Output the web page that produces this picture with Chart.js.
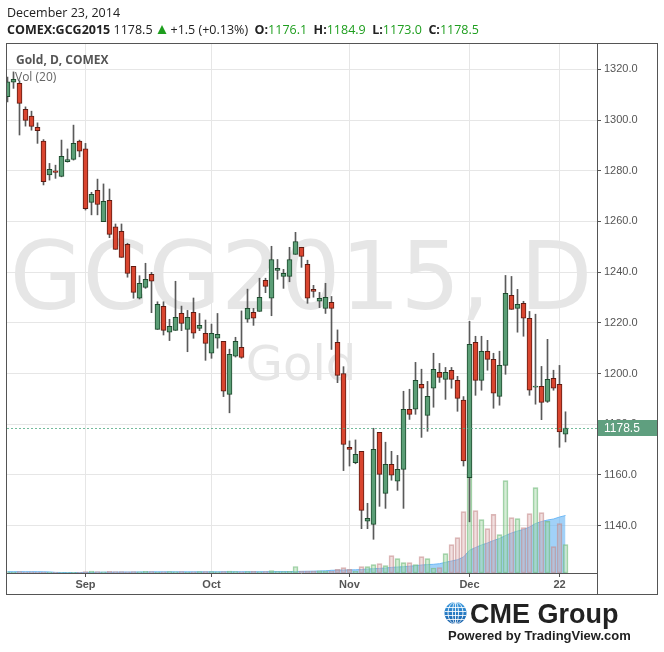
<!DOCTYPE html>
<html>
<head>
<meta charset="utf-8">
<script src="https://cdn.jsdelivr.net/npm/chart.js@4.4.1/dist/chart.umd.min.js"></script>
<style>
  html, body { margin: 0; padding: 0; background: #fff; overflow: hidden; }
  canvas { display: block; }
</style>
</head>
<body>
<canvas id="goldChart" width="664" height="652"></canvas>
<script>
// trading days shown on the chart
const dates = [
    '2014-08-13', '2014-08-14', '2014-08-15', '2014-08-18', '2014-08-19', '2014-08-20', '2014-08-21',
    '2014-08-22', '2014-08-25', '2014-08-26', '2014-08-27', '2014-08-28', '2014-08-29',
    '2014-09-02', '2014-09-03', '2014-09-04', '2014-09-05', '2014-09-08', '2014-09-09', '2014-09-10',
    '2014-09-11', '2014-09-12', '2014-09-15', '2014-09-16', '2014-09-17', '2014-09-18', '2014-09-19',
    '2014-09-22', '2014-09-23', '2014-09-24', '2014-09-25', '2014-09-26', '2014-09-29', '2014-09-30',
    '2014-10-01', '2014-10-02', '2014-10-03', '2014-10-06', '2014-10-07', '2014-10-08', '2014-10-09',
    '2014-10-10', '2014-10-13', '2014-10-14', '2014-10-15', '2014-10-16', '2014-10-17', '2014-10-20',
    '2014-10-21', '2014-10-22', '2014-10-23', '2014-10-24', '2014-10-27', '2014-10-28', '2014-10-29',
    '2014-10-30', '2014-10-31',
    '2014-11-03', '2014-11-04', '2014-11-05', '2014-11-06', '2014-11-07', '2014-11-10', '2014-11-11',
    '2014-11-12', '2014-11-13', '2014-11-14', '2014-11-17', '2014-11-18', '2014-11-19', '2014-11-20',
    '2014-11-21', '2014-11-24', '2014-11-25', '2014-11-26', '2014-11-27', '2014-11-28',
    '2014-12-01', '2014-12-02', '2014-12-03', '2014-12-04', '2014-12-05', '2014-12-08', '2014-12-09',
    '2014-12-10', '2014-12-11', '2014-12-12', '2014-12-15', '2014-12-16', '2014-12-17', '2014-12-18',
    '2014-12-19', '2014-12-22', '2014-12-23'
];

const opens = [
    1309.2, 1314.9, 1314.5, 1304.2, 1301.6, 1297.1, 1291.7, 1278.4, 1280.0, 1277.8, 1283.6, 1284.5, 1291.7,
    1288.6, 1267.5, 1272.3, 1259.9, 1268.3, 1257.9, 1256.1, 1251.0, 1242.3, 1229.7, 1234.0, 1239.1, 1217.4,
    1226.5, 1216.3, 1217.0, 1223.7, 1217.4, 1224.1, 1217.8, 1215.9,
    1208.0, 1213.9, 1212.7, 1191.8, 1206.8, 1210.3, 1221.4, 1224.1, 1224.5, 1236.8, 1229.7, 1240.7, 1238.3,
    1238.3, 1247.0, 1249.8, 1243.1, 1233.2, 1228.5, 1225.7, 1228.1, 1212.3, 1200.0,
    1170.9, 1164.8, 1169.3, 1141.7, 1140.5, 1176.8, 1152.7, 1164.2, 1157.5, 1162.2, 1185.9, 1185.9, 1195.7,
    1183.5, 1194.2, 1200.5, 1197.7, 1201.3, 1197.3, 1189.5,
    1158.9, 1212.3, 1197.3, 1208.8, 1205.6, 1191.0, 1203.2, 1230.8, 1225.7, 1227.7, 1221.8, 1194.6, 1194.9,
    1189.0, 1198.1, 1195.7, 1176.1
];
const highs = [
    1317.0, 1319.0, 1315.5, 1305.2, 1303.5, 1298.9, 1292.3, 1282.9, 1282.2, 1292.1, 1288.6, 1298.0, 1292.1,
    1290.8, 1271.5, 1276.7, 1274.8, 1272.8, 1259.0, 1259.0, 1251.4, 1242.3, 1238.6, 1243.5, 1239.9, 1228.3,
    1228.3, 1221.4, 1236.4, 1226.6, 1224.9, 1229.8, 1223.7, 1221.1,
    1219.5, 1223.7, 1212.7, 1209.6, 1214.3, 1224.7, 1233.3, 1225.7, 1237.6, 1237.6, 1250.2, 1245.0, 1241.1,
    1249.8, 1255.7, 1249.8, 1244.7, 1234.8, 1232.0, 1235.6, 1230.4, 1217.2, 1202.7,
    1173.4, 1173.8, 1169.3, 1148.8, 1178.4, 1176.8, 1172.9, 1169.3, 1167.7, 1193.0, 1193.8, 1204.4, 1201.7,
    1196.9, 1208.0, 1204.0, 1202.4, 1202.4, 1198.9, 1190.9,
    1220.6, 1214.7, 1214.7, 1213.1, 1208.0, 1208.8, 1238.7, 1238.3, 1233.2, 1228.5, 1224.5, 1223.4, 1202.8,
    1213.5, 1201.3, 1203.2, 1184.9
];
const lows = [
    1307.2, 1312.5, 1294.1, 1297.6, 1296.0, 1290.8, 1274.4, 1276.3, 1277.0, 1277.6, 1283.4, 1284.2, 1285.5,
    1264.5, 1262.6, 1262.6, 1259.9, 1253.6, 1249.0, 1245.8, 1238.0, 1229.7, 1229.4, 1233.6, 1224.0, 1217.4,
    1215.2, 1213.0, 1217.0, 1216.9, 1208.6, 1213.9, 1216.9, 1205.2,
    1206.0, 1210.0, 1190.9, 1184.5, 1206.5, 1206.0, 1220.2, 1219.0, 1224.5, 1231.9, 1222.8, 1237.2, 1233.6,
    1236.2, 1247.0, 1241.9, 1227.7, 1230.1, 1226.0, 1223.7, 1209.5, 1196.4, 1161.7,
    1163.5, 1164.4, 1138.8, 1138.8, 1134.6, 1147.6, 1146.8, 1157.9, 1153.9, 1146.8, 1181.9, 1183.9, 1174.8,
    1177.2, 1186.7, 1196.5, 1189.8, 1194.2, 1185.1, 1163.5,
    1141.5, 1191.4, 1193.4, 1201.3, 1186.3, 1187.5, 1199.7, 1225.3, 1216.3, 1214.7, 1191.4, 1187.9, 1181.8,
    1188.6, 1193.4, 1170.9, 1173.0
];
const closes = [
    1315.1, 1316.1, 1306.6, 1299.9, 1297.5, 1295.8, 1275.7, 1280.6, 1279.3, 1285.7, 1284.4, 1290.8, 1287.7,
    1265.0, 1270.7, 1266.7, 1267.9, 1254.9, 1249.0, 1245.8, 1239.5, 1232.0, 1235.6, 1237.2, 1236.4, 1227.3,
    1217.0, 1218.6, 1222.2, 1219.8, 1222.2, 1215.9, 1219.0, 1211.9,
    1215.9, 1215.5, 1193.0, 1207.6, 1212.7, 1206.4, 1225.7, 1221.8, 1230.1, 1234.4, 1245.0, 1241.5, 1239.5,
    1245.0, 1252.1, 1246.2, 1229.7, 1232.4, 1229.7, 1230.1, 1225.7, 1199.3, 1172.0,
    1170.1, 1168.1, 1146.0, 1142.9, 1170.1, 1160.2, 1164.2, 1159.9, 1162.2, 1185.9, 1183.9, 1197.3, 1194.2,
    1191.0, 1201.7, 1198.5, 1200.5, 1197.7, 1190.2, 1165.5,
    1211.5, 1197.3, 1208.8, 1205.6, 1192.2, 1203.2, 1231.6, 1225.3, 1227.3, 1221.8, 1193.4, 1195.0, 1188.6,
    1197.7, 1194.2, 1177.0, 1178.5
];

// volume (thousand contracts) and its 20 day average
const volumes = [
    1.2, 1.0, 1.3, 0.9, 1.1, 0.8, 1.0, 0.7, 0.6, 0.5, 0.5, 0.6, 0.7,
    1.5, 1.8, 1.4, 1.2, 1.6, 1.3, 1.5, 1.1, 1.4, 1.2, 1.6, 1.3, 1.0, 1.2, 1.4, 1.1, 1.3, 1.0, 1.2, 1.5, 1.3,
    1.4, 1.2, 1.5, 1.8, 1.3, 1.1, 1.4, 1.6, 1.2, 1.3, 2.5, 1.4, 1.5, 1.6, 6.5, 1.8, 2.0, 1.9, 2.2, 2.0, 1.7,
    3.7, 5.3,
    3.7, 1.7, 6.3, 6.3, 8.3, 9.3, 7.3, 17.3, 14.3, 10.3, 10.3, 8.3, 16.3, 14.3, 5.0, 5.3, 19.3, 28.3, 35.3,
    61.3,
    99.0, 62.3, 53.3, 44.3, 58.7, 38.3, 92.3, 55.3, 54.3, 45.3, 59.3, 85.3, 60.3, 51.7, 26.3, 49.3, 28.3
];
const volumeMA = [
    1.3, 1.3, 1.3, 1.3, 1.3, 1.3, 1.2, 1.1, 0.6, 0.5, 0.5, 0.5, 0.5,
    0.6, 0.7, 0.8, 0.8, 0.9, 0.9, 1.0, 1.0, 1.0, 1.1, 1.1, 1.2, 1.2, 1.2, 1.2, 1.2, 1.2, 1.2, 1.2, 1.2, 1.2,
    1.2, 1.2, 1.3, 1.3, 1.3, 1.3, 1.3, 1.3, 1.3, 1.3, 1.4, 1.4, 1.4, 1.4, 1.5, 1.6, 1.7, 1.8, 2.0, 2.2, 2.7,
    2.8, 3.0,
    3.1, 3.2, 3.5, 4.0, 4.3, 4.6, 5.0, 5.6, 6.0, 6.3, 6.8, 7.3, 8.0, 8.4, 8.7, 9.3, 10.7, 12.0, 13.3, 16.0,
    22.7, 25.5, 28.0, 30.0, 32.5, 34.5, 37.5, 40.0, 42.0, 43.5, 46.0, 49.5, 51.5, 53.0, 54.0, 56.0, 57.5
];

const tickDates = ['2014-09-02', '2014-10-01', '2014-11-03', '2014-12-01', '2014-12-22'];
const tickLabels = ['Sep', 'Oct', 'Nov', 'Dec', '22'];
const priceTicks = [1140, 1160, 1180, 1200, 1220, 1240, 1260, 1280, 1300, 1320];

const lastPrice = 1178.5;
const GREEN = '#1e9e1e';

Chart.defaults.font.family = '"Liberation Sans", Arial, sans-serif';

const isUp = closes.map((c, i) => c >= opens[i]);
const tickIndex = tickDates.map(d => dates.indexOf(d));

// draw a row of text pieces one after another
function textRow(ctx, x, y, parts) {
    parts.forEach(p => {
        if (p.gap) { x += p.gap; return; }
        if (p.triangle) {
            ctx.fillStyle = p.color;
            ctx.beginPath();
            ctx.moveTo(x, y);
            ctx.lineTo(x + 9, y);
            ctx.lineTo(x + 4.5, y - 9);
            ctx.closePath();
            ctx.fill();
            x += 9;
            return;
        }
        ctx.font = p.font;
        ctx.fillStyle = p.color;
        ctx.fillText(p.text, x, y);
        x += ctx.measureText(p.text).width;
    });
}

const decorations = {
    id: 'decorations',
    beforeDraw(chart) {
        const { ctx, chartArea: a } = chart;
        ctx.save();
        ctx.beginPath();
        ctx.rect(a.left, a.top, a.right - a.left, a.bottom - a.top);
        ctx.clip();
        ctx.fillStyle = '#e6e6e6';
        ctx.textAlign = 'center';
        ctx.font = '94px "DejaVu Sans"';
        ctx.fillText('GCG2015, D', 301, 309);
        ctx.font = '48px "DejaVu Sans"';
        ctx.fillText('Gold', 301, 380);
        ctx.restore();
    },
    afterDatasetsDraw(chart) {
        const { ctx, chartArea: a } = chart;
        const py = Math.round(chart.scales.y.getPixelForValue(lastPrice)) + 0.5;
        ctx.save();
        ctx.strokeStyle = 'rgba(80,170,130,0.8)';
        ctx.setLineDash([2, 2]);
        ctx.beginPath();
        ctx.moveTo(a.left, py);
        ctx.lineTo(a.right, py);
        ctx.stroke();
        ctx.restore();
    },
    afterDraw(chart) {
        const { ctx, chartArea: a } = chart;
        ctx.save();

        // frame
        ctx.strokeStyle = '#555';
        ctx.lineWidth = 1;
        ctx.strokeRect(6.5, 43.5, 651, 551);
        ctx.beginPath();
        ctx.moveTo(a.right + 0.5, 43);
        ctx.lineTo(a.right + 0.5, 595);
        ctx.moveTo(6, a.bottom + 0.5);
        ctx.lineTo(a.right, a.bottom + 0.5);
        ctx.stroke();

        // last price label
        const py = chart.scales.y.getPixelForValue(lastPrice);
        ctx.fillStyle = '#5f9f7f';
        ctx.fillRect(a.right + 1, Math.round(py) - 8, 59, 16);
        ctx.fillStyle = '#fff';
        ctx.font = '12px "Liberation Sans"';
        ctx.textBaseline = 'middle';
        ctx.fillText(lastPrice.toFixed(1), a.right + 7, py + 1);

        // header
        ctx.textBaseline = 'alphabetic';
        const reg = '12.5px "Open Sans"';
        const bold = 'bold 12.5px "Open Sans"';
        ctx.font = reg;
        ctx.fillStyle = '#222';
        ctx.fillText('December 23, 2014', 7, 17);
        textRow(ctx, 7, 34, [
            { text: 'COMEX:GCG2015 ', font: bold, color: '#222' },
            { text: '1178.5', font: reg, color: '#222' },
            { gap: 5 },
            { triangle: true, color: GREEN },
            { gap: 4 },
            { text: '+1.5 (+0.13%)  ', font: reg, color: '#222' },
            { text: 'O:', font: bold, color: '#222' },
            { text: '1176.1  ', font: reg, color: GREEN },
            { text: 'H:', font: bold, color: '#222' },
            { text: '1184.9  ', font: reg, color: GREEN },
            { text: 'L:', font: bold, color: '#222' },
            { text: '1173.0  ', font: reg, color: GREEN },
            { text: 'C:', font: bold, color: '#222' },
            { text: '1178.5', font: reg, color: GREEN }
        ]);

        // legend text inside the pane
        ctx.font = 'bold 12px "Open Sans"';
        ctx.fillStyle = '#555';
        ctx.fillText('Gold, D, COMEX', 16, 64);
        ctx.font = '12px "Open Sans"';
        ctx.fillStyle = '#666';
        ctx.fillText('Vol (20)', 15, 81);

        // CME Group logo
        const gx = 455.5, gy = 613, r = 11;
        const grad = ctx.createLinearGradient(gx, gy - r, gx, gy + r);
        grad.addColorStop(0, '#3c9be0');
        grad.addColorStop(1, '#155ea8');
        ctx.fillStyle = grad;
        ctx.beginPath();
        ctx.arc(gx, gy, r, 0, Math.PI * 2);
        ctx.fill();
        ctx.save();
        ctx.clip();
        ctx.strokeStyle = 'rgba(255,255,255,0.85)';
        ctx.lineWidth = 1;
        [-6, -2, 2, 6].forEach(d => {
            ctx.beginPath();
            ctx.moveTo(gx - r, gy + d + 0.5);
            ctx.lineTo(gx + r, gy + d + 0.5);
            ctx.stroke();
        });
        [3, 7.5].forEach(w => {
            ctx.beginPath();
            ctx.ellipse(gx, gy, w, r, 0, 0, Math.PI * 2);
            ctx.stroke();
        });
        ctx.beginPath();
        ctx.moveTo(gx, gy - r);
        ctx.lineTo(gx, gy + r);
        ctx.stroke();
        ctx.restore();

        ctx.fillStyle = '#222';
        ctx.font = 'bold 27px "Liberation Sans"';
        ctx.fillText('CME Group', 470, 623, 152);
        ctx.font = 'bold 13px "Liberation Sans"';
        ctx.fillText('Powered by TradingView.com', 448, 640, 186);

        ctx.restore();
    }
};

const ctx = document.getElementById('goldChart').getContext('2d');
new Chart(ctx, {
    type: 'bar',
    data: {
        datasets: [
            {
                label: 'Body',
                data: dates.map((d, i) => ({ x: i, y: [opens[i], closes[i]] })),
                backgroundColor: isUp.map(u => u ? '#5b9e76' : '#d9452f'),
                borderColor: isUp.map(u => u ? '#1d4a2d' : '#5e1b12'),
                borderWidth: 1,
                borderSkipped: false,
                barThickness: 5,
                grouped: false,
                order: 0
            },
            {
                label: 'Wick',
                data: dates.map((d, i) => ({ x: i, y: [lows[i], highs[i]] })),
                backgroundColor: '#5a5a5a',
                borderWidth: 0,
                barThickness: 1,
                grouped: false,
                order: 1
            },
            {
                label: 'Volume',
                data: dates.map((d, i) => ({ x: i, y: volumes[i] })),
                yAxisID: 'vol',
                backgroundColor: isUp.map(u => u ? 'rgba(165,214,167,0.45)' : 'rgba(214,165,165,0.35)'),
                borderColor: isUp.map(u => u ? 'rgba(110,185,120,0.65)' : 'rgba(195,135,135,0.6)'),
                borderWidth: 1,
                borderSkipped: false,
                barThickness: 5,
                grouped: false,
                order: 2
            },
            {
                type: 'line',
                label: 'Vol (20)',
                data: dates.map((d, i) => ({ x: i, y: volumeMA[i] })),
                yAxisID: 'vol',
                borderColor: 'rgba(100,180,245,0.9)',
                backgroundColor: 'rgba(110,185,245,0.65)',
                borderWidth: 1,
                pointRadius: 0,
                fill: 'origin',
                order: 3
            }
        ]
    },
    options: {
        responsive: false,
        animation: false,
        events: [],
        layout: { padding: { left: 7, top: 43, right: 6, bottom: 57 } },
        plugins: {
            legend: { display: false },
            tooltip: { enabled: false }
        },
        scales: {
            x: {
                type: 'linear',
                offset: false,
                min: -0.0833,
                max: 98.25,
                afterBuildTicks: scale => { scale.ticks = tickIndex.map(v => ({ value: v })); },
                afterFit: scale => { scale.height = 22; },
                ticks: {
                    autoSkip: false,
                    maxRotation: 0,
                    padding: 1,
                    color: '#555',
                    font: { size: 11, weight: 'bold' },
                    callback: (v, i) => tickLabels[i]
                },
                grid: { offset: false, color: '#e6e6e6', tickLength: 4, tickColor: '#555' },
                border: { display: false }
            },
            y: {
                position: 'right',
                min: 1121.3,
                max: 1330.4,
                afterBuildTicks: scale => { scale.ticks = priceTicks.map(v => ({ value: v })); },
                afterFit: scale => { scale.width = 61; },
                ticks: {
                    padding: 3,
                    color: '#555',
                    font: { size: 11 },
                    callback: v => v.toFixed(1)
                },
                grid: { color: '#e6e6e6', tickLength: 4, tickColor: '#555' },
                border: { display: false }
            },
            vol: {
                display: false,
                min: 0,
                max: 530
            }
        }
    },
    plugins: [decorations]
});
</script>
</body>
</html>
